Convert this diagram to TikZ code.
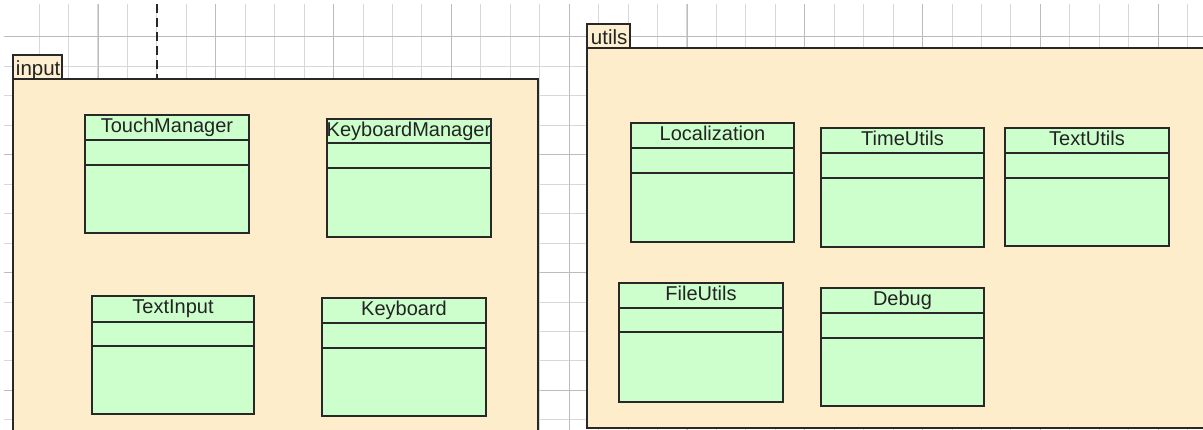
\documentclass[tikz,border=0pt]{standalone}
\usepackage{fontspec}
\setmainfont{Liberation Sans}
\usetikzlibrary{fit,calc}

\definecolor{pkgfill}{RGB}{253,237,203}
\definecolor{tabfill}{RGB}{253,239,207}
\definecolor{classfill}{RGB}{204,255,204}
\definecolor{inkline}{RGB}{40,40,40}
\definecolor{gridlight}{RGB}{216,216,216}
\definecolor{griddark}{RGB}{188,188,188}
\definecolor{txt}{RGB}{35,35,35}

\tikzset{
  gridminor/.style={draw=gridlight, line width=1pt},
  gridmajor/.style={draw=griddark, line width=1pt},
  pkgbox/.style={draw=inkline, line width=1.5pt, fill=pkgfill, inner sep=0pt},
  pkgtab/.style={draw=inkline, line width=1.5pt, fill=tabfill, inner sep=0pt},
  classbox/.style={draw=inkline, line width=1.5pt, fill=classfill, inner sep=0pt},
  divider/.style={draw=inkline, line width=1.5pt},
  classname/.style={font=\fontsize{20}{22}\selectfont, text=txt, inner sep=0pt, anchor=base},
  pkgname/.style={font=\fontsize{20.5}{22}\selectfont, text=txt, inner sep=0pt, anchor=base west},
  depline/.style={draw=inkline, line width=2pt, dash pattern=on 9pt off 5pt},
}

% UML class box: name, x1, y1, x2, y2, first divider y, second divider y, title
\newcommand{\umlclass}[8]{%
  \node[classbox, fit={(#2,#3) (#4,#5)}] (#1) {};
  \draw[divider] (#1.west |- 0,#6) -- (#1.east |- 0,#6);
  \draw[divider] (#1.west |- 0,#7) -- (#1.east |- 0,#7);
  \node[classname] (#1-name) at ($(#1.north)+(0,18.5)$) {#8};
}

\begin{document}
\begin{tikzpicture}[x=1pt, y=-1pt]
  \useasboundingbox (0,0) rectangle (1203,430);
  \clip (0,0) rectangle (1203,430);
  \fill[white] (0,0) rectangle (1203,430);

  % canvas grid
  \foreach \k in {1,...,41}
    \draw[gridminor] ({9.6+29.45*\k},4) -- ({9.6+29.45*\k},430);
  \foreach \k in {0,...,13}
    \draw[gridminor] (4,{37+29.45*\k}) -- (1203,{37+29.45*\k});
  \foreach \k in {0,...,9}
    \draw[gridmajor] ({98+117.8*\k},4) -- ({98+117.8*\k},430);
  \foreach \k in {0,...,3}
    \draw[gridmajor] (4,{37+117.8*\k}) -- (1203,{37+117.8*\k});

  % package: input
  \node[pkgbox, fit={(13,79) (538,450)}] (input) {};
  \node[pkgtab, fit={(13,55) (62,79)}] (input-tab) {};
  \node[pkgname] (input-label) at ($(input-tab.south west)+(3.5,-4)$) {input};

  % package: utils
  \node[pkgbox, fit={(587,48) (1220,428)}] (utils) {};
  \node[pkgtab, fit={(587,24) (630,48)}] (utils-tab) {};
  \node[pkgname] (utils-label) at ($(utils-tab.south west)+(4.5,-4.5)$) {utils};

  % classes of input
  \umlclass{touchmanager}{85}{115}{249}{233}{140}{165}{TouchManager}
  \umlclass{keyboardmanager}{327}{119}{491}{237}{143}{168}{KeyboardManager}
  \umlclass{textinput}{92}{296}{254}{414}{322}{346}{TextInput}
  \umlclass{keyboard}{322}{298}{486}{416}{323}{348}{Keyboard}

  % classes of utils
  \umlclass{localization}{631}{123}{794}{242}{148}{173}{Localization}
  \umlclass{timeutils}{821}{128}{984}{247}{153}{178}{TimeUtils}
  \umlclass{textutils}{1005}{128}{1169}{246}{153}{178}{TextUtils}
  \umlclass{fileutils}{619}{283}{783}{402}{308}{332}{FileUtils}
  \umlclass{debug}{821}{288}{984}{406}{313}{338}{Debug}

  % dependency entering the input package from above
  \coordinate (deptop) at (157,4);
  \draw[depline] (deptop) -- (deptop |- input.north);
\end{tikzpicture}
\end{document}
